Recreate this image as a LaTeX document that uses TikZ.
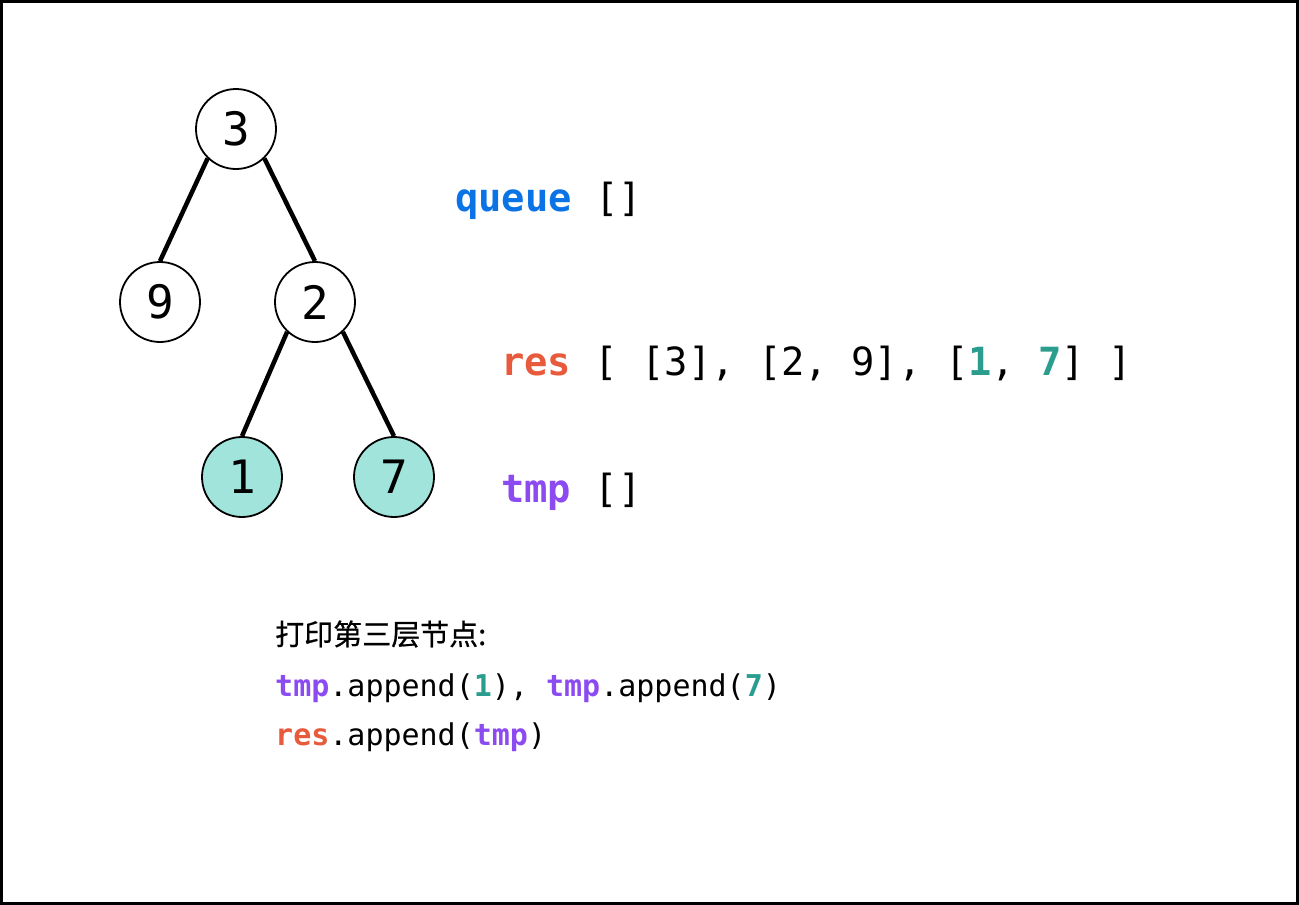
\documentclass[tikz,border=0pt]{standalone}
\usepackage{fontspec}
\newfontfamily\code{DejaVu Sans Mono}
\newfontfamily\cjk{Noto Sans CJK SC}[FakeBold=0.6]
\definecolor{qblue}{RGB}{10,115,230}
\definecolor{rred}{RGB}{232,90,60}
\definecolor{tpurple}{RGB}{140,75,240}
\definecolor{teal1}{RGB}{42,157,143}
\definecolor{tfill}{RGB}{160,228,220}
\begin{document}
\begin{tikzpicture}[x=1pt,y=-1pt,
  tnode/.style={circle,draw=black,line width=1.8pt,minimum size=80pt,inner sep=0pt,font=\code\fontsize{46}{48}\selectfont},
  hl/.style={tnode,fill=tfill},
  edge/.style={line width=4.5pt},
  big/.style={anchor=base west,inner sep=0pt,font=\code\fontsize{38.8}{40}\selectfont},
  small/.style={anchor=base west,inner sep=0pt,font=\code\fontsize{30}{32}\selectfont}]
\useasboundingbox (0,0) rectangle (1299,905);
\draw[line width=3pt] (1.5,1.5) rectangle (1297.5,903.5);
\node[tnode] (n3) at (236,129) {3};
\node[tnode] (n9) at (160,302) {9};
\node[tnode] (n2) at (315,302) {2};
\node[hl] (n1) at (242,477) {1};
\node[hl] (n7) at (394,477) {7};
\draw[edge] (n3.226) -- (n9.north);
\draw[edge] (n3.314) -- (n2.north);
\draw[edge] (n2.227) -- (n1.north);
\draw[edge] (n2.313) -- (n7.north);
\node[big] (q) at (455,211) {\textcolor{qblue}{\bfseries queue} []};
\node[big] (r) at (501,375) {\textcolor{rred}{\bfseries res} [ [3], [2, 9], [\textcolor{teal1}{\bfseries 1}, \textcolor{teal1}{\bfseries 7}] ]};
\node[big] (t) at (501,502) {\textcolor{tpurple}{\bfseries tmp} []};
\node[anchor=base west,inner sep=0pt,font=\cjk\fontsize{29}{32}\selectfont] (c) at (275,645) {打印第三层节点:};
\node[small] (l1) at (275,696) {\textcolor{tpurple}{\bfseries tmp}.append(\textcolor{teal1}{\bfseries 1}), \textcolor{tpurple}{\bfseries tmp}.append(\textcolor{teal1}{\bfseries 7})};
\node[small] (l2) at (275,745) {\textcolor{rred}{\bfseries res}.append(\textcolor{tpurple}{\bfseries tmp})};
\end{tikzpicture}
\end{document}
